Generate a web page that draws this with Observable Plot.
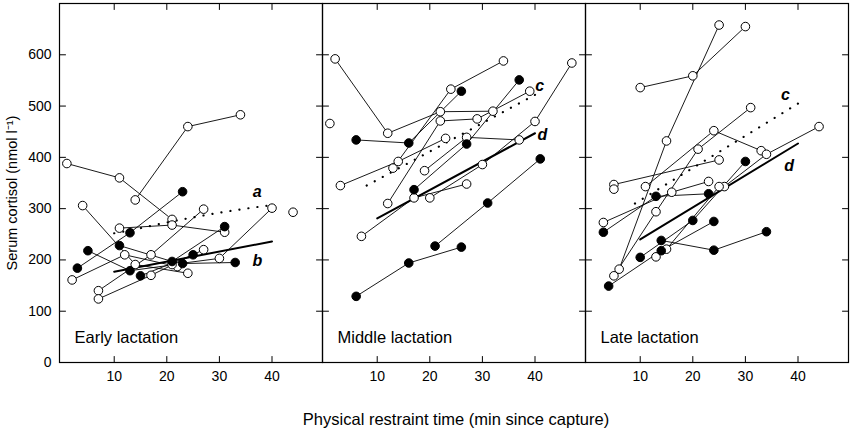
<!DOCTYPE html>
<html>
<head>
<meta charset="utf-8">
<script src="https://cdn.jsdelivr.net/npm/d3@7"></script>
<script src="https://cdn.jsdelivr.net/npm/@observablehq/plot@0.6"></script>
<style>
  html, body { margin: 0; padding: 0; background: white; }
  #chart svg { display: block; }
  #xtitle { font-family: "Liberation Sans", Arial, sans-serif; font-size: 16.5px; color: black;
            margin-left: 62px; width: 788px; text-align: center; margin-top: 14px; line-height: 20px; }
</style>
</head>
<body>
<div id="chart"></div>
<div id="xtitle">Physical restraint time (min since capture)</div>
<script>
const panels = ["Early", "Middle", "Late"];
const panelTitles = ["Early lactation", "Middle lactation", "Late lactation"];
const xTicks = [10, 20, 30, 40];
const yTicks = [0, 100, 200, 300, 400, 500, 600];
const yLabel = "Serum cortisol (nmol l\u207B\u00B9)";

// individual animals: [filled?, points]
const earlySeries = [
  [false, [[1,388],[11,360],[21,279]]],
  [false, [[14,317],[24,460],[34,483]]],
  [false, [[4,306],[14,191],[24,174]]],
  [false, [[2,161],[12,210],[22,187]]],
  [false, [[7,140],[17,210],[27,299]]],
  [false, [[7,124],[17,170],[27,220]]],
  [false, [[11,262],[21,268],[31,254]]],
  [false, [[21,191],[30,203],[40,301]]],
  [false, [[44,293]]],
  [true,  [[3,184],[13,253],[23,333]]],
  [true,  [[5,218],[13,179],[23,193],[33,195]]],
  [true,  [[11,228],[21,197],[31,265]]],
  [true,  [[15,169],[25,210]]]
];
const middleSeries = [
  [false, [[2,592],[12,447],[22,489],[32,490]]],
  [false, [[1,466]]],
  [false, [[13,379],[24,533],[34,588]]],
  [false, [[3,345],[14,392],[23,437]]],
  [false, [[19,374],[27,439],[37,434]]],
  [false, [[12,310],[22,471],[29,475],[39,529]]],
  [false, [[7,246],[17,321],[27,348]]],
  [false, [[20,321],[30,386],[40,470],[47,584]]],
  [true,  [[6,434],[16,428],[26,529]]],
  [true,  [[17,337],[27,426],[37,551]]],
  [true,  [[6,129],[16,194],[26,225]]],
  [true,  [[21,227],[31,311],[41,397]]]
];
const lateSeries = [
  [false, [[10,536],[20,559],[30,655]]],
  [false, [[6,182],[15,432],[25,658]]],
  [false, [[5,169],[13,294],[21,416],[31,497]]],
  [false, [[5,347],[25,395]]],
  [false, [[11,343],[24,452],[33,413]]],
  [false, [[26,343],[34,406],[44,460]]],
  [false, [[3,273],[16,332],[23,353]]],
  [false, [[13,206],[15,221],[25,343]]],
  [false, [[5,338]]],
  [true,  [[3,254],[13,324],[23,329]]],
  [true,  [[14,238],[24,219],[34,255]]],
  [true,  [[4,149],[14,218],[24,275]]],
  [true,  [[10,205],[20,277],[30,392]]]
];

// fitted curves: [panel, dotted?, points]
const fits = [
  ["Early", true,  [[10,252],[15,262],[20,273],[25,283],[30,292],[35,300],[40,307]]],
  ["Early", false, [[10,177],[40,236]]],
  ["Middle", true, [[8,345],[40,522]]],
  ["Middle", false,[[10,281],[40,447]]],
  ["Late", true,   [[9,310],[40,505]]],
  ["Late", false,  [[10,240],[40,427]]]
];
const fitLabels = [
  ["Early", "a", 37.2, 333], ["Early", "b", 37.2, 199],
  ["Middle", "c", 40.9, 540], ["Middle", "d", 41.4, 444],
  ["Late", "c", 37.6, 521], ["Late", "d", 38.3, 384]
];

const rows = [];
[earlySeries, middleSeries, lateSeries].forEach((list, pi) => {
  list.forEach(([filled, pts], si) => {
    pts.forEach(([x, y]) => rows.push({panel: panels[pi], id: panels[pi] + si, filled, x, y}));
  });
});
const fitRows = [];
fits.forEach(([panel, dotted, pts], i) => pts.forEach(([x, y]) => fitRows.push({panel, id: i, dotted, x, y})));
const labelRows = fitLabels.map(([panel, text, x, y]) => ({panel, text, x, y}));
const titleRows = panels.map((p, i) => ({panel: p, text: panelTitles[i]}));

const tickShape = {draw(context, l) { context.moveTo(0, 0); context.lineTo(0, -l); }};
const tickOpts = {length: 6, anchor: "start", shape: tickShape, stroke: "black", strokeWidth: 1};

const chart = Plot.plot({
  width: 850,
  height: 395,
  marginLeft: 59,
  marginRight: 2,
  marginTop: 3,
  marginBottom: 33,
  style: {fontFamily: "Liberation Sans, Arial, sans-serif", fontSize: "14px", color: "black", background: "white"},
  fx: {domain: panels, padding: 0, axis: null, label: null},
  x: {domain: [-0.4, 49.6]},
  y: {domain: [0, 700]},
  marks: [
    Plot.frame({stroke: "black", strokeWidth: 1.2}),
    Plot.vector(xTicks, {x: d => d, frameAnchor: "bottom", rotate: 0, ...tickOpts}),
    Plot.vector(xTicks, {x: d => d, frameAnchor: "top", rotate: 180, ...tickOpts}),
    Plot.vector(yTicks, {y: d => d, frameAnchor: "left", rotate: 90, ...tickOpts}),
    Plot.vector(yTicks, {y: d => d, frameAnchor: "right", rotate: 270, ...tickOpts}),
    Plot.axisX(xTicks, {tickSize: 0, tickPadding: 9, label: null, fontSize: 14}),
    Plot.axisY(yTicks, {tickSize: 0, tickPadding: 8, label: null, fontSize: 14}),
    Plot.text([{panel: "Early", text: yLabel}], {fx: "panel", text: "text", frameAnchor: "left", textAnchor: "middle", rotate: -90, dx: -47, dy: 10, fontSize: 14.5}),
    Plot.text(titleRows, {fx: "panel", text: "text", frameAnchor: "bottom-left", textAnchor: "start", lineAnchor: "middle", dx: 15, dy: -25, fontSize: 16.5}),
    Plot.line(rows, {fx: "panel", x: "x", y: "y", z: "id", stroke: "black", strokeWidth: 0.9}),
    Plot.line(fitRows.filter(d => d.dotted), {fx: "panel", x: "x", y: "y", z: "id", stroke: "black", strokeWidth: 2.2, strokeDasharray: "0.1 9", strokeLinecap: "round", curve: "natural"}),
    Plot.line(fitRows.filter(d => !d.dotted), {fx: "panel", x: "x", y: "y", z: "id", stroke: "black", strokeWidth: 2}),
    Plot.dot(rows, {fx: "panel", x: "x", y: "y", r: 4.3, fill: d => d.filled ? "black" : "white", stroke: "black", strokeWidth: 1}),
    Plot.text(labelRows, {fx: "panel", x: "x", y: "y", text: "text", fontSize: 16, fontWeight: "bold", fontStyle: "italic"})
  ]
});
document.getElementById("chart").appendChild(chart);
</script>
</body>
</html>
